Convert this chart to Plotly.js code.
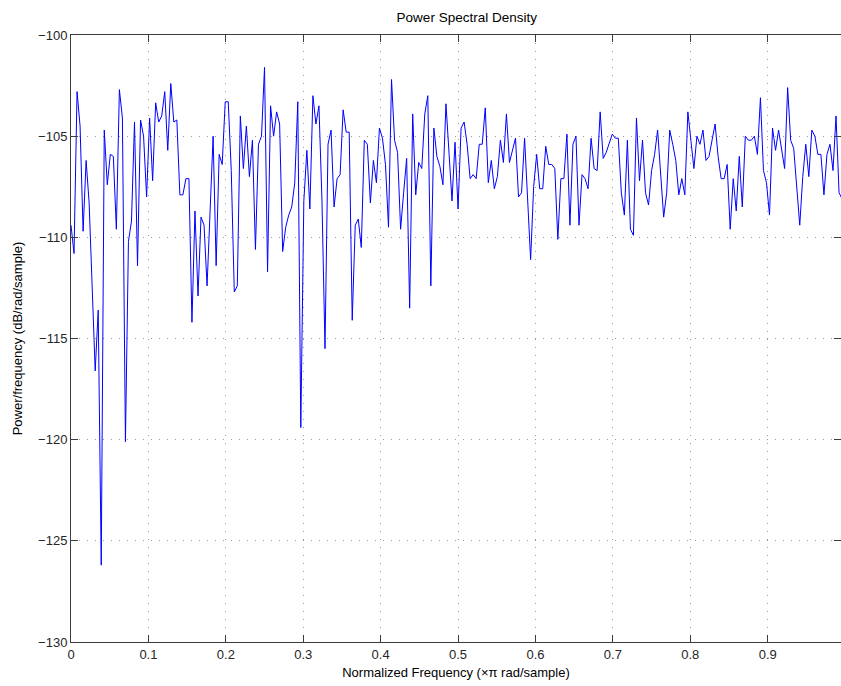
<!DOCTYPE html>
<html>
<head>
<meta charset="utf-8">
<script src="https://cdn.plot.ly/plotly-3.0.1.min.js"></script>
<style>html,body{margin:0;padding:0;background:#fff;}#chart{width:841px;height:686px;}</style>
</head>
<body>
<div id="chart"></div>
<script>
// Normalized frequency step (x pi rad/sample)
const freqStep = 1 / 256;

// PSD values (dB/rad/sample)
const psdDb = [
  -109.4, -110.8, -102.8, -104.5, -109.7, -106.2, -108.3, -112.4, -116.6, -113.6,
  -126.2, -104.7, -107.4, -105.9, -106.0, -109.6, -102.7, -104.1, -120.1, -110.2,
  -109.2, -104.3, -111.4, -104.2, -105.0, -108.0, -104.1, -107.2, -103.35, -104.3,
  -104.0, -102.8, -105.7, -102.4, -104.3, -104.2, -107.9, -107.9, -107.1, -107.1,
  -114.2, -108.7, -112.9, -109.0, -109.4, -112.4, -108.7, -105.0, -111.4, -105.9,
  -106.4, -103.3, -103.3, -106.7, -112.7, -112.4, -104.0, -106.6, -104.5, -107.0,
  -105.2, -110.6, -105.4, -105.0, -101.6, -111.7, -103.5, -105.0, -103.8, -104.4,
  -110.7, -109.5, -108.9, -108.5, -107.3, -103.3, -119.4, -108.2, -105.7, -108.6,
  -103.0, -104.4, -103.5, -108.2, -115.5, -105.4, -104.7, -108.5, -107.1, -106.9,
  -103.7, -104.8, -104.8, -114.1, -109.4, -109.1, -110.5, -105.2, -105.4, -108.3,
  -106.2, -107.3, -104.6, -105.1, -106.4, -109.5, -102.2, -105.2, -105.8, -109.6,
  -107.8, -106.1, -113.5, -103.9, -107.9, -106.3, -106.6, -103.9, -103.0, -112.4,
  -104.6, -106.0, -106.5, -107.4, -103.4, -105.9, -108.2, -105.3, -108.6, -104.6,
  -104.3, -105.4, -107.1, -106.9, -107.1, -105.4, -105.4, -103.6, -107.3, -106.2,
  -107.6, -107.0, -105.2, -106.3, -103.9, -106.3, -105.7, -105.1, -108.0, -107.8,
  -105.1, -108.2, -111.1, -107.5, -105.9, -107.6, -107.6, -105.5, -106.4, -106.4,
  -106.6, -110.1, -107.1, -107.1, -104.9, -109.4, -105.4, -105.0, -109.4, -106.9,
  -107.1, -107.6, -105.1, -106.6, -106.7, -103.8, -106.1, -105.8, -105.4, -104.9,
  -105.1, -105.1, -107.8, -108.9, -105.2, -109.6, -109.9, -104.1, -107.2, -105.2,
  -107.8, -108.4, -106.7, -105.9, -104.7, -106.8, -109.0, -107.8, -104.7, -105.4,
  -106.2, -107.9, -107.1, -107.9, -103.8, -105.2, -106.6, -105.0, -105.4, -104.7,
  -106.2, -106.0, -105.2, -104.4, -106.0, -107.1, -107.1, -106.4, -109.6, -107.1,
  -108.7, -106.0, -108.5, -105.0, -105.2, -105.2, -105.0, -105.9, -103.1, -106.7,
  -107.3, -108.9, -104.6, -105.7, -104.7, -105.7, -106.6, -102.6, -105.2, -105.6,
  -107.5, -109.4, -107.0, -105.4, -107.0, -104.7, -105.0, -105.9, -105.9, -107.9,
  -105.9, -105.4, -106.7, -104.0, -107.8, -108.1
];

const freq = psdDb.map((_, i) => i * freqStep);

const xTickVals = [0, 0.1, 0.2, 0.3, 0.4, 0.5, 0.6, 0.7, 0.8, 0.9];
const xTickText = ['0', '0.1', '0.2', '0.3', '0.4', '0.5', '0.6', '0.7', '0.8', '0.9'];
const yTickVals = [-130, -125, -120, -115, -110, -105, -100];

const font = 'Liberation Sans, Arial, Helvetica, sans-serif';

const trace = {
  x: freq, y: psdDb, type: 'scatter', mode: 'lines',
  line: {color: '#0000ff', width: 1}, hoverinfo: 'x+y'
};

const axisCommon = {
  showline: true, linecolor: '#3c3c3c', linewidth: 1, mirror: 'ticks',
  ticks: 'inside', ticklen: 7, tickcolor: '#3c3c3c', tickwidth: 1,
  showgrid: true, gridcolor: '#9a9a9a', griddash: '1px,7px', gridwidth: 1,
  zeroline: false, tickfont: {family: font, size: 13, color: '#262626'}
};

const layout = {
  width: 841, height: 686,
  margin: {l: 71, r: 0, t: 35, b: 44, pad: 0},
  paper_bgcolor: '#ffffff', plot_bgcolor: '#ffffff',
  showlegend: false,
  title: {text: 'Power Spectral Density', font: {family: font, size: 13.5, color: '#000'},
          x: 0.514, xanchor: 'center', y: 0.975, yanchor: 'middle', xref: 'paper'},
  xaxis: Object.assign({}, axisCommon, {
    range: [0, 0.9947], tickvals: xTickVals, ticktext: xTickText,
    title: {text: 'Normalized Frequency (\u00d7\u03c0 rad/sample)', font: {family: font, size: 13, color: '#000'}, standoff: 7}
  }),
  yaxis: Object.assign({}, axisCommon, {
    range: [-130, -100], tickvals: yTickVals,
    title: {text: 'Power/frequency (dB/rad/sample)', font: {family: font, size: 13, color: '#000'}, standoff: 12}
  })
};

Plotly.newPlot('chart', [trace], layout, {displayModeBar: false, staticPlot: true});
</script>
</body>
</html>
